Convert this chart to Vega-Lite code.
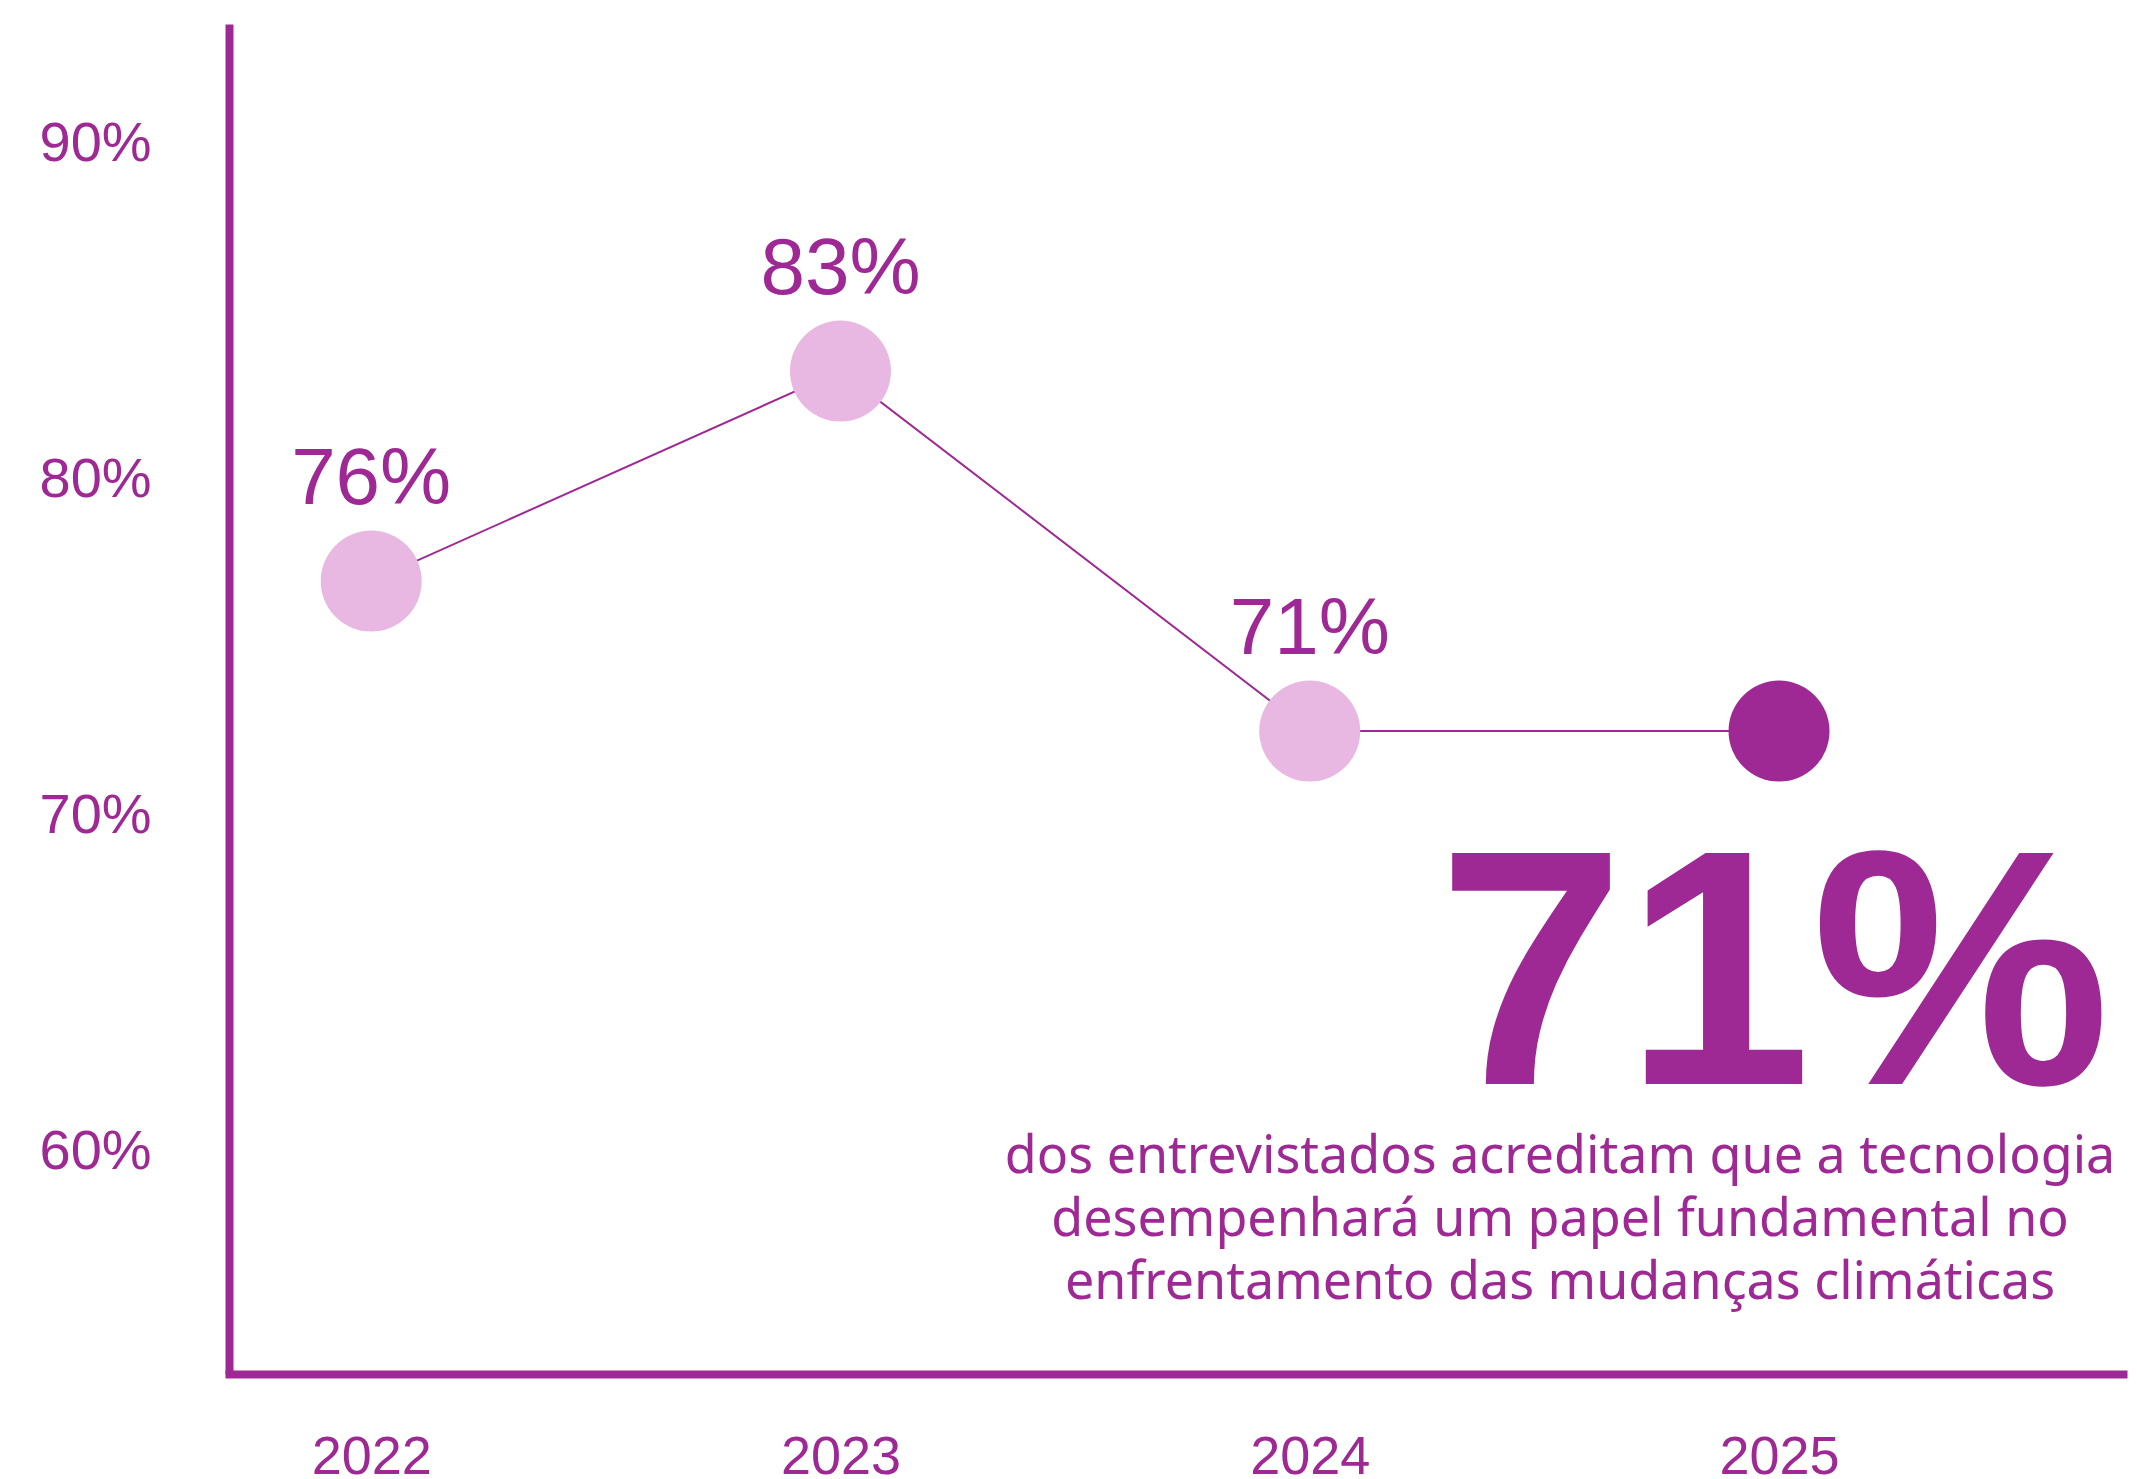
{
  "$schema": "https://vega.github.io/schema/vega-lite/v6.json",
  "width": 1894,
  "height": 1350,
  "autosize": {"type": "none"},
  "padding": {"left": 229, "top": 24, "right": 14, "bottom": 105},
  "background": "white",
  "config": {"view": {"stroke": null}},
  "datasets": {
    "serie": [
      {"ano": 2022, "valor": 0.76, "destaque": "não"},
      {"ano": 2023, "valor": 0.83, "destaque": "não"},
      {"ano": 2024, "valor": 0.71, "destaque": "não"},
      {"ano": 2025, "valor": 0.71, "destaque": "sim"}
    ],
    "escala": [
      {"marca": 0.6},
      {"marca": 0.7},
      {"marca": 0.8},
      {"marca": 0.9}
    ]
  },
  "layer": [
    {
      "data": {"name": "escala"},
      "mark": {"type": "point", "opacity": 0},
      "encoding": {
        "y": {
          "field": "marca",
          "type": "quantitative",
          "scale": {"domain": [0.5339, 0.9357], "nice": false, "zero": false},
          "axis": {
            "values": [0.6, 0.7, 0.8, 0.9],
            "format": ".0%",
            "title": null,
            "grid": false,
            "ticks": false,
            "tickSize": 0,
            "domainColor": "#9E2894",
            "domainWidth": 8,
            "domainCap": "butt",
            "labelFont": "Liberation Sans",
            "labelFontSize": 56,
            "labelColor": "#9E2894",
            "labelAlign": "left",
            "labelBaseline": "middle",
            "labelPadding": 190,
            "labelOverlap": false,
            "labelFlush": false
          }
        }
      }
    },
    {
      "data": {"name": "serie"},
      "encoding": {
        "x": {
          "field": "ano",
          "type": "quantitative",
          "scale": {"domain": [2021.697, 2025.733], "nice": false, "zero": false},
          "axis": {
            "values": [2022, 2023, 2024, 2025],
            "format": "d",
            "title": null,
            "grid": false,
            "ticks": false,
            "tickSize": 0,
            "domainColor": "#9E2894",
            "domainWidth": 8,
            "domainCap": "square",
            "labelFont": "Liberation Sans",
            "labelFontSize": 54,
            "labelColor": "#9E2894",
            "labelPadding": 56,
            "labelBaseline": "top",
            "labelOverlap": false,
            "labelFlush": false
          }
        },
        "y": {
          "field": "valor",
          "type": "quantitative",
          "scale": {"domain": [0.4957, 0.9457], "nice": false, "zero": false},
          "axis": null
        }
      },
      "layer": [
        {"mark": {"type": "line", "color": "#9E2894", "strokeWidth": 2}},
        {
          "mark": {"type": "circle", "size": 10201, "opacity": 1},
          "encoding": {
            "color": {
              "field": "destaque",
              "type": "nominal",
              "scale": {"domain": ["não", "sim"], "range": ["#E8B8E2", "#9E2894"]},
              "legend": null
            }
          }
        },
        {
          "transform": [{"filter": "datum.destaque == 'não'"}],
          "mark": {"type": "text", "font": "Liberation Sans", "fontSize": 80, "color": "#9E2894", "dy": -77, "baseline": "alphabetic", "align": "center"},
          "encoding": {"text": {"field": "valor", "type": "quantitative", "format": ".0%"}}
        },
        {
          "transform": [{"filter": "datum.destaque == 'sim'"}],
          "mark": {"type": "text", "font": "Liberation Sans", "fontWeight": "bold", "fontSize": 336, "color": "#9E2894", "dx": -5, "dy": 353, "baseline": "alphabetic", "align": "center"},
          "encoding": {"text": {"field": "valor", "type": "quantitative", "format": ".0%"}}
        },
        {
          "transform": [{"filter": "datum.destaque == 'sim'"}],
          "mark": {
            "type": "text",
            "font": "Noto Sans",
            "fontSize": 52,
            "lineHeight": 63,
            "color": "#9E2894",
            "dx": -219,
            "dy": 442,
            "baseline": "alphabetic",
            "align": "center",
            "text": [
              "dos entrevistados acreditam que a tecnologia",
              "desempenhará um papel fundamental no",
              "enfrentamento das mudanças climáticas"
            ]
          }
        }
      ]
    }
  ],
  "resolve": {"scale": {"y": "independent"}}
}
